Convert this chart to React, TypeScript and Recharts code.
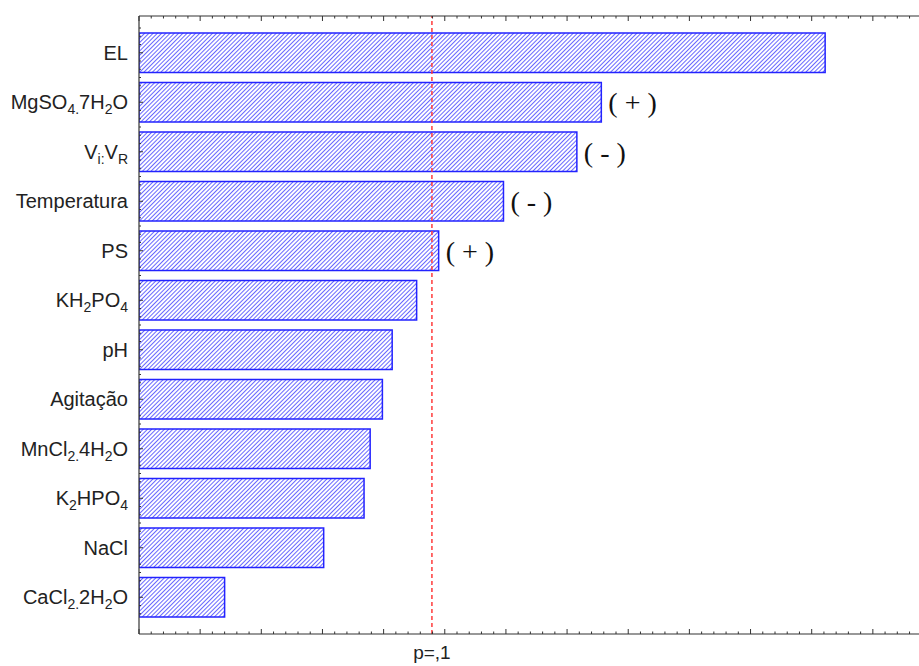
import React from 'react';
import { BarChart, Bar, XAxis, YAxis, ReferenceLine, LabelList } from 'recharts';

// Factors in Pareto order; "_{...}" marks a subscript run.
const factors = [
  'EL',
  'MgSO_{4.}7H_{2}O',
  'V_{i:}V_{R}',
  'Temperatura',
  'PS',
  'KH_{2}PO_{4}',
  'pH',
  'Agitação',
  'MnCl_{2.}4H_{2}O',
  'K_{2}HPO_{4}',
  'NaCl',
  'CaCl_{2.}2H_{2}O',
];

// Standardized effect magnitudes.
const effects = [5.61, 3.78, 3.58, 2.98, 2.45, 2.27, 2.07, 1.99, 1.89, 1.84, 1.51, 0.7];

// Sign of the significant effects.
const effectSigns = ['', '+', '-', '-', '+', '', '', '', '', '', '', ''];

const pThreshold = 2.395;
const pLabel = 'p=,1';
const axisMax = 6.5;

// Axis ticks every 0.1, longer every 0.5.
const xTicks: number[] = [];
for (let i = 0; i <= axisMax * 10; i++) xTicks.push(i / 10);

const rows = factors.map((name, i) => ({ name, effect: effects[i], sign: effectSigns[i] }));

const BAND = 49.5;
const AXIS_COLOR = '#333';
const SANS = '"Liberation Sans", Arial, sans-serif';
const SERIF = '"Liberation Serif", "Times New Roman", serif';

const isMajor = (v: number) => Math.abs(v * 2 - Math.round(v * 2)) < 1e-6;

function parseLabel(label: string) {
  const parts: { text: string; sub: boolean }[] = [];
  const re = /_\{([^}]*)\}/g;
  let last = 0;
  let m: RegExpExecArray | null;
  while ((m = re.exec(label)) !== null) {
    if (m.index > last) parts.push({ text: label.slice(last, m.index), sub: false });
    parts.push({ text: m[1], sub: true });
    last = m.index + m[0].length;
  }
  if (last < label.length) parts.push({ text: label.slice(last), sub: false });
  return parts;
}

const FactorTick = (props: any) => {
  const { x, y, payload } = props;
  const parts = parseLabel(String(payload.value));
  const minor: number[] = [-3, -2, -1, 1, 2];
  let shift = 0;
  return (
    <g>
      <line x1={x} x2={x + 4} y1={y} y2={y} stroke={AXIS_COLOR} strokeWidth={1} />
      {minor.map((k) => (
        <line key={k} x1={x} x2={x + 2} y1={y + (k * BAND) / 6} y2={y + (k * BAND) / 6} stroke={AXIS_COLOR} strokeWidth={1} />
      ))}
      <text x={x - 11} y={y + 7} textAnchor="end" fontFamily={SANS} fontSize={20} fill="#222">
        {parts.map((p, i) => {
          const target = p.sub ? 5 : 0;
          const dy = target - shift;
          shift = target;
          return (
            <tspan key={i} dy={dy} fontSize={p.sub ? 14 : 20}>
              {p.text}
            </tspan>
          );
        })}
      </text>
    </g>
  );
};

const BottomTick = (props: any) => {
  const { x, y, payload } = props;
  const v = payload.value as number;
  if (v === pThreshold) {
    return (
      <text x={x} y={y + 25} textAnchor="middle" fontFamily={SANS} fontSize={19} fill="#222">
        {pLabel}
      </text>
    );
  }
  const len = isMajor(v) ? 5 : 2.5;
  return <line x1={x} x2={x} y1={y} y2={y - len} stroke={AXIS_COLOR} strokeWidth={1} />;
};

const TopTick = (props: any) => {
  const { x, y, payload } = props;
  const len = isMajor(payload.value) ? 5 : 2.5;
  return <line x1={x} x2={x} y1={y} y2={y + len} stroke={AXIS_COLOR} strokeWidth={1} />;
};

const SignLabel = (props: any) => {
  const { x, y, width, height, value } = props;
  if (!value) return null;
  return (
    <text
      x={x + width + 7}
      y={y + height / 2 + 10}
      fontFamily={SERIF}
      fontSize={28}
      fill="#111"
      xmlSpace="preserve"
    >
      {`( ${value} )`}
    </text>
  );
};

export default function App() {
  return (
    <div
      style={{
        position: 'absolute',
        left: 8,
        top: 8,
        width: 911,
        height: 658,
        overflow: 'hidden',
        background: '#fff',
      }}
    >
      <svg width={0} height={0} style={{ position: 'absolute' }}>
        <defs>
          <pattern id="hatch" patternUnits="userSpaceOnUse" width={3} height={3} patternTransform="rotate(45)">
            <rect width={3} height={3} fill="#ffffff" />
            <line x1={0} y1={0} x2={0} y2={3} stroke="#4040ff" strokeWidth={1.6} />
          </pattern>
        </defs>
      </svg>
      <BarChart
        width={926}
        height={658}
        data={rows}
        layout="vertical"
        margin={{ top: 7, right: 0, bottom: 31, left: 0 }}
      >
        <XAxis
          type="number"
          domain={[0, axisMax]}
          ticks={[...xTicks, pThreshold]}
          interval={0}
          height={1}
          tickSize={0}
          tickMargin={0}
          tickLine={false}
          tick={<BottomTick />}
          axisLine={{ stroke: AXIS_COLOR, strokeWidth: 1.2 }}
          allowDataOverflow
        />
        <XAxis
          xAxisId="top"
          orientation="top"
          type="number"
          domain={[0, axisMax]}
          ticks={xTicks}
          interval={0}
          height={1}
          tickSize={0}
          tickMargin={0}
          tickLine={false}
          tick={<TopTick />}
          axisLine={{ stroke: AXIS_COLOR, strokeWidth: 1.2 }}
          allowDataOverflow
        />
        <YAxis
          type="category"
          dataKey="name"
          width={131}
          interval={0}
          tickSize={0}
          tickMargin={0}
          tickLine={false}
          tick={<FactorTick />}
          axisLine={{ stroke: AXIS_COLOR, strokeWidth: 1.2 }}
          padding={{ top: 12, bottom: 12 }}
        />
        <Bar
          dataKey="effect"
          barSize={39.5}
          fill="url(#hatch)"
          stroke="#2323ff"
          strokeWidth={1.5}
          isAnimationActive={false}
        >
          <LabelList dataKey="sign" content={<SignLabel />} />
        </Bar>
        <ReferenceLine x={pThreshold} stroke="#ff3b3b" strokeWidth={1.5} strokeDasharray="4 3" />
      </BarChart>
    </div>
  );
}
